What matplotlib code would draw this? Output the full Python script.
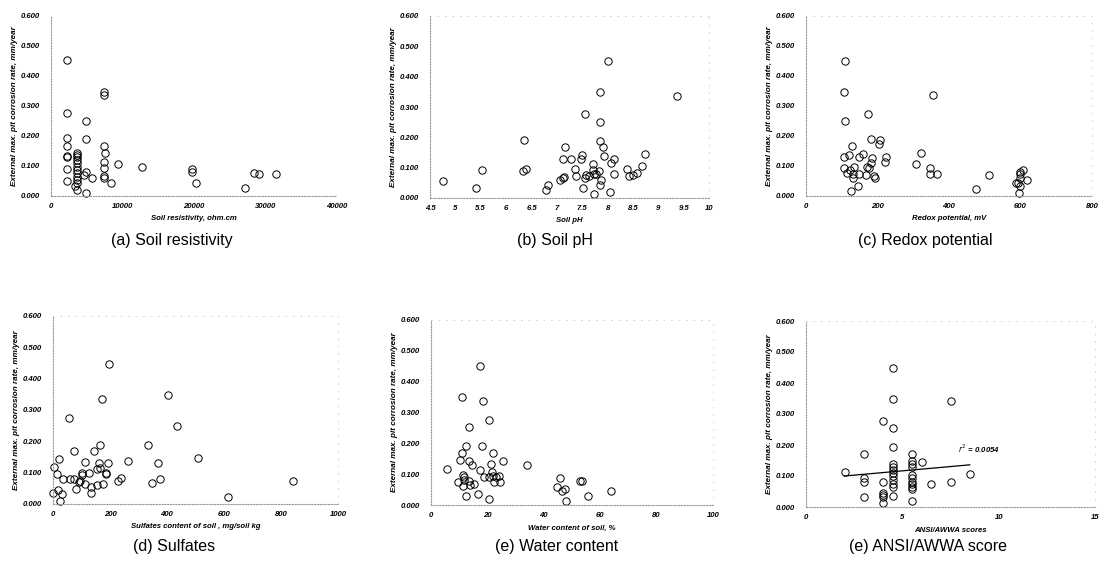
import matplotlib
matplotlib.use('Agg')
import matplotlib.pyplot as plt

# (a) soil resistivity, ohm.cm
res_x = [2300, 2300, 2300, 2300, 2300, 2300, 2300, 2300,
         3600, 3600, 3600, 3600, 3600, 3600, 3600, 3600, 3600, 3600, 3600, 3350, 3600,
         4650, 4950, 4950, 4950, 4950, 5700,
         7450, 7450, 7450, 7600, 7450, 7450, 7450, 7450,
         8400, 9350, 12700, 19700, 19700, 20300, 27200, 28400, 29100, 31500]
res_y = [0.453, 0.278, 0.192, 0.168, 0.133, 0.129, 0.089, 0.050,
         0.144, 0.137, 0.129, 0.120, 0.109, 0.098, 0.087, 0.076, 0.064, 0.053, 0.044, 0.034, 0.020,
         0.070, 0.081, 0.250, 0.189, 0.011, 0.059,
         0.348, 0.337, 0.168, 0.142, 0.112, 0.092, 0.068, 0.061,
         0.044, 0.106, 0.098, 0.089, 0.079, 0.044, 0.028, 0.077, 0.074, 0.073]

# (b) soil pH
ph_x = [4.76, 5.40, 5.53, 6.36, 6.33, 6.39, 6.79, 6.83, 7.07, 7.13, 7.14, 7.13, 7.17,
        7.27, 7.35, 7.37, 7.49, 7.48, 7.51, 7.55, 7.55, 7.57, 7.64, 7.72, 7.72, 7.74,
        7.78, 7.74, 7.84, 7.86, 7.86, 7.86, 7.91, 7.93, 7.88, 7.86, 8.00, 8.05, 8.07,
        8.13, 8.12, 8.38, 8.42, 8.50, 8.59, 8.68, 8.73, 9.37]
ph_y = [0.055, 0.032, 0.093, 0.191, 0.088, 0.097, 0.028, 0.043, 0.059, 0.065, 0.068, 0.129, 0.167,
        0.127, 0.095, 0.074, 0.143, 0.129, 0.034, 0.277, 0.065, 0.075, 0.072, 0.113, 0.091, 0.079,
        0.079, 0.013, 0.089, 0.348, 0.250, 0.189, 0.169, 0.140, 0.060, 0.043, 0.450, 0.020, 0.116,
        0.129, 0.079, 0.095, 0.072, 0.077, 0.083, 0.105, 0.145, 0.335]

# (c) redox potential, mV
redox_x = [109, 106, 109, 105, 107, 120, 114, 128, 123, 131, 131, 134, 125, 147, 145,
           149, 159, 167, 173, 170, 176, 181, 181, 186, 189, 193, 203, 207, 223, 221,
           307, 321, 347, 347, 354, 367, 476, 512, 588, 593, 598, 598, 599, 598, 595, 606, 617]
redox_y = [0.451, 0.346, 0.250, 0.092, 0.130, 0.136, 0.077, 0.166, 0.086, 0.073, 0.059, 0.097, 0.017, 0.075, 0.034,
           0.130, 0.141, 0.070, 0.274, 0.097, 0.092, 0.110, 0.191, 0.127, 0.066, 0.059, 0.172, 0.188, 0.130, 0.114,
           0.106, 0.144, 0.094, 0.072, 0.337, 0.074, 0.025, 0.070, 0.042, 0.044, 0.081, 0.075, 0.061, 0.034, 0.011, 0.088, 0.053]

# (d) sulfates, mg/soil kg
sulf_x = [195, 171, 404, 55, 434, 332, 166, 73, 144, 21, 510, 263, 114, 160, 192, 367,
          5, 154, 164, 14, 100, 100, 127, 185, 185, 35, 61, 73, 94, 91, 238, 229, 376,
          346, 842, 82, 114, 134, 156, 176, 19, 0, 32, 135, 615, 26]
sulf_y = [0.447, 0.334, 0.347, 0.276, 0.250, 0.189, 0.189, 0.169, 0.169, 0.145, 0.146, 0.138, 0.134, 0.132, 0.130, 0.131,
          0.117, 0.111, 0.114, 0.096, 0.099, 0.093, 0.098, 0.098, 0.095, 0.081, 0.081, 0.079, 0.073, 0.069, 0.082, 0.072, 0.080,
          0.066, 0.073, 0.047, 0.063, 0.055, 0.061, 0.065, 0.045, 0.034, 0.031, 0.036, 0.021, 0.011]

# (e) water content, %
water_x = [17.4, 11.1, 18.4, 20.5, 13.6, 12.5, 18.0, 10.9, 21.9, 10.4, 13.6, 14.4, 21.1,
           25.5, 33.9, 5.8, 17.4, 11.3, 11.6, 21.6, 18.9, 20.4, 22.1, 23.0, 24.2, 9.7,
           11.7, 13.5, 11.3, 14.0, 15.2, 22.2, 24.4, 45.6, 44.8, 46.4, 47.6, 52.7, 53.5,
           55.8, 64.0, 12.3, 16.7, 20.7, 47.7]
water_y = [0.452, 0.349, 0.338, 0.275, 0.252, 0.191, 0.191, 0.170, 0.169, 0.145, 0.142, 0.131, 0.133,
           0.143, 0.129, 0.116, 0.114, 0.098, 0.090, 0.107, 0.091, 0.090, 0.095, 0.090, 0.094, 0.073,
           0.081, 0.079, 0.062, 0.064, 0.068, 0.073, 0.075, 0.088, 0.059, 0.044, 0.051, 0.078, 0.079,
           0.029, 0.045, 0.028, 0.035, 0.019, 0.013]

# (f) ANSI/AWWA scores
score_x = [2.0, 3.0, 3.0, 3.0, 3.0, 4.0, 4.0, 4.0, 4.0, 4.0, 4.0,
           4.5, 4.5, 4.5, 4.5, 4.5, 4.5, 4.5, 4.5, 4.5, 4.5, 4.5, 4.5, 4.5,
           5.5, 5.5, 5.5, 5.5, 5.5, 5.5, 5.5, 5.5, 5.5, 5.5, 5.5,
           6.0, 6.5, 7.5, 7.5, 8.5]
score_y = [0.112, 0.170, 0.093, 0.082, 0.031, 0.277, 0.082, 0.046, 0.038, 0.033, 0.013,
           0.450, 0.348, 0.254, 0.195, 0.140, 0.130, 0.120, 0.110, 0.100, 0.087, 0.074, 0.063, 0.035,
           0.170, 0.150, 0.138, 0.128, 0.104, 0.093, 0.082, 0.074, 0.066, 0.057, 0.020,
           0.145, 0.073, 0.341, 0.080, 0.105]
trend_x = [2.0, 8.5]
trend_y = [0.100, 0.136]

y_ticks = [0.0, 0.1, 0.2, 0.3, 0.4, 0.5, 0.6]
ylabel = 'External max. pit corrosion rate, mm/year'

# panel specs: data, x ticks, x label, caption, axes box in pixels (left, top, right, bottom), caption x, y
panels = [
    (res_x, res_y, [0, 10000, 20000, 30000, 40000], 'Soil resistivity, ohm.cm',
     '(a) Soil resistivity', (51, 16, 337, 196), 172, 240),
    (ph_x, ph_y, [4.5, 5, 5.5, 6, 6.5, 7, 7.5, 8, 8.5, 9, 9.5, 10], 'Soil pH',
     '(b) Soil pH', (430, 16, 709, 198), 555, 240),
    (redox_x, redox_y, [0, 200, 400, 600, 800], 'Redox potential, mV',
     '(c) Redox potential', (806, 16, 1092, 196), 925, 240),
    (sulf_x, sulf_y, [0, 200, 400, 600, 800, 1000], 'Sulfates content of soil , mg/soil kg',
     '(d) Sulfates', (53, 316, 338, 504), 174, 547),
    (water_x, water_y, [0, 20, 40, 60, 80, 100], 'Water content of soil, %',
     '(e) Water content', (431, 320, 713, 505), 557, 547),
    (score_x, score_y, [0, 5, 10, 15], 'ANSI/AWWA scores',
     '(e) ANSI/AWWA score', (806, 321, 1095, 507), 928, 547),
]

W, H = 1107, 577
fig = plt.figure(figsize=(W / 100, H / 100), dpi=100)
fig.patch.set_facecolor('white')

tick_font = dict(family='Liberation Sans', size=5.6, weight='bold', style='italic')

for i, (xs, ys, xt, xl, cap, box, cx, cy) in enumerate(panels):
    l, t, r, b = box
    ax = fig.add_axes([l / W, 1 - b / H, (r - l) / W, (b - t) / H])
    ax.plot(xs, ys, 'o', ms=5.3, mfc='none', mec='black', mew=0.7, clip_on=False)
    ax.set_xlim(xt[0], xt[-1])
    ax.set_ylim(0, 0.6)
    ax.set_xticks(xt)
    ax.set_xticklabels([('%g' % v) for v in xt], fontdict=tick_font)
    ax.set_yticks(y_ticks)
    ax.set_yticklabels(['%.3f' % v for v in y_ticks], fontdict=tick_font)
    ax.tick_params(length=0)
    ax.tick_params(axis='y', pad=8)
    ax.tick_params(axis='x', pad=5)

    # dotted grey frame like the scanned original
    for side in ['left', 'bottom']:
        ax.spines[side].set_linestyle((0, (1, 1.5)))
        ax.spines[side].set_color('#999999')
        ax.spines[side].set_linewidth(0.8)
    for side in ['top', 'right']:
        ax.spines[side].set_linestyle((0, (1, 8)))
        ax.spines[side].set_color('#cccccc')
        ax.spines[side].set_linewidth(0.6)
        ax.spines[side].set_visible(i != 0)

    ax.set_xlabel(xl, fontdict=tick_font, labelpad=4)
    ax.set_ylabel(ylabel, family='Liberation Sans', size=5.9, weight='bold',
                  style='italic', labelpad=2)

    fig.text(cx / W, 1 - cy / H, cap, ha='center', va='center',
             family=['Liberation Sans Narrow', 'Liberation Sans'], size=11.5)

    if i == 5:
        ax.plot(trend_x, trend_y, color='black', lw=0.9)
        ax.text(7.9, 0.173, r'$r^2$ = 0.0054', family='Liberation Sans', size=5.6,
                weight='bold', style='italic')

fig.savefig('out.png', dpi=100)
